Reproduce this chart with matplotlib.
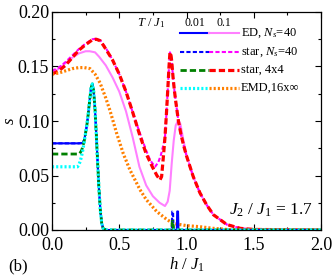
import matplotlib
matplotlib.use("Agg")
import matplotlib.pyplot as plt
from matplotlib.ticker import MultipleLocator

plt.rcParams['font.family'] = ['Liberation Serif', 'DejaVu Serif']
plt.rcParams['mathtext.fontset'] = 'custom'
plt.rcParams['mathtext.rm'] = 'Liberation Serif'
plt.rcParams['mathtext.it'] = 'Liberation Serif:italic'
plt.rcParams['lines.scale_dashes'] = False

# ---------------- data ----------------
# T/J1 = 0.01
h_ed_lo = [0, 0.1, 0.2, 0.22, 0.23, 0.24, 0.25, 0.26, 0.27, 0.28, 0.29, 0.30, 0.31, 0.32, 0.33,
           0.34, 0.35, 0.36, 0.37, 0.38, 0.40, 0.80, 0.928, 0.931, 0.937, 0.940, 2.0]
s_ed_lo = [0.0795, 0.0795, 0.0795, 0.0797, 0.080, 0.083, 0.089, 0.097, 0.107, 0.119, 0.130, 0.134,
           0.127, 0.110, 0.086, 0.060, 0.036, 0.017, 0.006, 0.0015, 0.0, 0.0, 0.0, 0.017, 0.017, 0.0, 0.0]

h_star_lo = [0, 0.1, 0.2, 0.22, 0.23, 0.24, 0.25, 0.26, 0.27, 0.28, 0.29, 0.30, 0.31, 0.32, 0.33,
             0.34, 0.35, 0.36, 0.37, 0.38, 0.40, 0.80, 0.891, 0.894, 0.900, 0.903, 2.0]
s_star_lo = [0.0795, 0.0795, 0.0795, 0.0797, 0.080, 0.083, 0.089, 0.097, 0.107, 0.119, 0.130, 0.134,
             0.127, 0.110, 0.086, 0.060, 0.036, 0.017, 0.006, 0.0015, 0.0, 0.0, 0.0, 0.017, 0.017, 0.0, 0.0]

h_4x4_lo = [0, 0.1, 0.2, 0.21, 0.22, 0.23, 0.24, 0.25, 0.26, 0.27, 0.28, 0.29, 0.30, 0.31, 0.32,
            0.33, 0.34, 0.35, 0.36, 0.37, 0.38, 0.40, 0.80, 0.891, 0.894, 0.900, 0.903, 2.0]
s_4x4_lo = [0.0697, 0.0697, 0.0697, 0.071, 0.073, 0.077, 0.082, 0.089, 0.097, 0.107, 0.119, 0.130,
            0.134, 0.127, 0.110, 0.086, 0.060, 0.036, 0.017, 0.006, 0.0015, 0.0, 0.0, 0.0, 0.008, 0.008, 0.0, 0.0]

h_emd_lo = [0, 0.1, 0.19, 0.20, 0.21, 0.22, 0.23, 0.24, 0.25, 0.26, 0.27, 0.28, 0.29, 0.30, 0.31,
            0.32, 0.33, 0.34, 0.35, 0.36, 0.37, 0.38, 0.40, 2.0]
s_emd_lo = [0.058, 0.058, 0.058, 0.060, 0.063, 0.068, 0.074, 0.081, 0.089, 0.097, 0.107, 0.119,
            0.130, 0.134, 0.127, 0.110, 0.086, 0.060, 0.036, 0.017, 0.006, 0.0015, 0.0, 0.0]

# T/J1 = 0.1
h_ed_hi = [0, 0.05, 0.1, 0.15, 0.2, 0.25, 0.28, 0.32, 0.35, 0.40, 0.45, 0.50, 0.55, 0.60, 0.65,
           0.70, 0.75, 0.80, 0.84, 0.86, 0.875, 0.89, 0.905, 0.92, 0.94, 0.955, 0.976, 1.0, 1.05,
           1.1, 1.15, 1.2, 1.3, 1.4, 1.5, 2.0]
s_ed_hi = [0.144, 0.148, 0.153, 0.158, 0.162, 0.164, 0.164, 0.163, 0.159, 0.151, 0.140, 0.127,
           0.109, 0.085, 0.058, 0.041, 0.031, 0.025, 0.022, 0.026, 0.036, 0.061, 0.082, 0.096,
           0.101, 0.097, 0.083, 0.069, 0.049, 0.034, 0.023, 0.014, 0.005, 0.0015, 0.0005, 0.0]

h_star_hi = [0, 0.05, 0.1, 0.15, 0.2, 0.25, 0.3, 0.33, 0.36, 0.4, 0.45, 0.5, 0.55, 0.6, 0.65,
             0.7, 0.73, 0.766, 0.79, 0.81, 0.83, 0.84, 0.85, 0.86, 0.87, 0.877, 0.885, 0.89, 0.90,
             0.91, 0.92, 0.94, 0.96, 0.98, 1.0, 1.05, 1.1, 1.15, 1.2, 1.3, 1.4, 1.5, 2.0]
s_star_hi = [0.146, 0.149, 0.154, 0.160, 0.166, 0.171, 0.175, 0.1755, 0.174, 0.167, 0.156, 0.143,
             0.127, 0.108, 0.090, 0.073, 0.064, 0.058, 0.062, 0.069, 0.079, 0.085, 0.105, 0.127,
             0.150, 0.163, 0.160, 0.155, 0.140, 0.128, 0.118, 0.100, 0.087, 0.077, 0.068, 0.049,
             0.034, 0.023, 0.014, 0.005, 0.0015, 0.0005, 0.0]

h_4x4_hi = [0, 0.05, 0.1, 0.15, 0.2, 0.25, 0.3, 0.33, 0.36, 0.4, 0.45, 0.5, 0.55, 0.6, 0.65,
            0.7, 0.75, 0.78, 0.803, 0.815, 0.83, 0.84, 0.85, 0.86, 0.87, 0.877, 0.885, 0.89,
            0.90, 0.91, 0.92, 0.94, 0.96, 0.98, 1.0, 1.05, 1.1, 1.15, 1.2, 1.3, 1.4, 1.5, 2.0]
s_4x4_hi = [0.143, 0.146, 0.151, 0.158, 0.165, 0.170, 0.1745, 0.175, 0.1735, 0.166, 0.156, 0.143,
            0.127, 0.108, 0.088, 0.070, 0.057, 0.050, 0.046, 0.049, 0.070, 0.085, 0.105, 0.127,
            0.150, 0.163, 0.160, 0.155, 0.140, 0.128, 0.118, 0.100, 0.087, 0.077, 0.068,
            0.049, 0.034, 0.023, 0.014, 0.005, 0.0015, 0.0005, 0.0]

h_emd_hi = [0, 0.05, 0.1, 0.15, 0.2, 0.24, 0.283, 0.32, 0.357, 0.40, 0.43, 0.48, 0.53, 0.58,
            0.654, 0.70, 0.778, 0.85, 0.90, 1.0, 1.1, 1.2, 1.3, 1.4, 2.0]
s_emd_hi = [0.143, 0.144, 0.146, 0.148, 0.149, 0.149, 0.148, 0.143, 0.135, 0.121, 0.110, 0.089,
            0.070, 0.055, 0.037, 0.028, 0.017, 0.010, 0.006, 0.004, 0.003, 0.0015, 0.0005, 0.0, 0.0]

legend_labels = ["ED, $N_s$=40", "star, $N_s$=40", "star, 4x4", "EMD,16x\u221e"]
temp_labels = ["0.01", "0.1"]

# ---------------- styles ----------------
c_ed_lo, c_ed_hi = "#0000ff", "#ff80ff"
c_st_lo, c_st_hi = "#0000ff", "#ff00ff"
c_44_lo, c_44_hi = "#008000", "#ff0000"
c_em_lo, c_em_hi = "#00ffff", "#ff8000"

st_ed = dict(linestyle='-', lw=1.5)
st_st = dict(linestyle=(0, (3.0, 1.6)), lw=1.5)
st_44_lo = dict(linestyle=(0, (4.5, 2.2)), lw=2.0)
st_44_hi = dict(linestyle=(0, (4.5, 2.2)), lw=2.3)
st_em = dict(linestyle=(0, (1.5, 1.5)), lw=2.3)

fig = plt.figure(figsize=(3.32, 2.77), dpi=100)
ax = fig.add_axes([52/332, 1-230/277, 269/332, 218/277])

ax.plot(h_ed_hi, s_ed_hi, color=c_ed_hi, **st_ed)
ax.plot(h_star_hi, s_star_hi, color=c_st_hi, **st_st)
ax.plot(h_4x4_hi, s_4x4_hi, color=c_44_hi, **st_44_hi)
ax.plot(h_emd_hi, s_emd_hi, color=c_em_hi, **st_em)
ax.plot(h_ed_lo, s_ed_lo, color=c_ed_lo, **st_ed)
ax.plot(h_star_lo, s_star_lo, color=c_st_lo, **st_st)
ax.plot(h_4x4_lo, s_4x4_lo, color=c_44_lo, **st_44_lo)
ax.plot(h_emd_lo, s_emd_lo, color=c_em_lo, **st_em)

ax.set_xlim(0, 2.0)
ax.set_ylim(0, 0.20)
ax.xaxis.set_major_locator(MultipleLocator(0.5))
ax.xaxis.set_minor_locator(MultipleLocator(0.25))
ax.yaxis.set_major_locator(MultipleLocator(0.05))
ax.yaxis.set_minor_locator(MultipleLocator(0.025))
ax.xaxis.set_major_formatter(plt.FuncFormatter(lambda v, p: f"{v:.1f}"))
ax.yaxis.set_major_formatter(plt.FuncFormatter(lambda v, p: f"{v:.2f}"))
ax.tick_params(which='both', direction='in', top=True, right=True, labelsize=13)
ax.tick_params(axis='y', pad=2)
ax.tick_params(axis='x', pad=5)
ax.tick_params(which='major', length=4, width=0.8)
ax.tick_params(which='minor', length=2.5, width=0.8)
for sp in ax.spines.values():
    sp.set_linewidth(0.9)

ax.set_xlabel("$h$ / $J_1$", fontsize=12, labelpad=1)
ax.set_ylabel("$s$", fontsize=12, labelpad=0)

# manual legend
rows_y = [0.904, 0.817, 0.734, 0.651]
x0, x1, x2 = 0.476, 0.584, 0.695
pairs = [((c_ed_lo, st_ed), (c_ed_hi, st_ed)),
         ((c_st_lo, st_st), (c_st_hi, st_st)),
         ((c_44_lo, st_44_lo), (c_44_hi, st_44_hi)),
         ((c_em_lo, st_em), (c_em_hi, st_em))]
for yy, (lo, hi), lab in zip(rows_y, pairs, legend_labels):
    ax.plot([x0, x1], [yy, yy], color=lo[0], transform=ax.transAxes, clip_on=False, **lo[1])
    ax.plot([x1, x2], [yy, yy], color=hi[0], transform=ax.transAxes, clip_on=False, **hi[1])
    ax.text(x2 + 0.008, yy, lab, transform=ax.transAxes, fontsize=9, va='center', ha='left')
ax.text(0.42, 0.95, "$T$ / $J_1$", transform=ax.transAxes, fontsize=9, va='center', ha='right')
ax.text((x0 + x1) / 2, 0.95, temp_labels[0], transform=ax.transAxes, fontsize=8.5, va='center', ha='center')
ax.text((x1 + x2) / 2, 0.95, temp_labels[1], transform=ax.transAxes, fontsize=8.5, va='center', ha='center')

ax.text(0.97, 0.092, "$J_2$ / $J_1$ = 1.7", transform=ax.transAxes, fontsize=12.5, va='center', ha='right')
fig.text(8/332, 1-266/277, "(b)", fontsize=12, va='center', ha='left')

fig.savefig("out.png", dpi=100)
